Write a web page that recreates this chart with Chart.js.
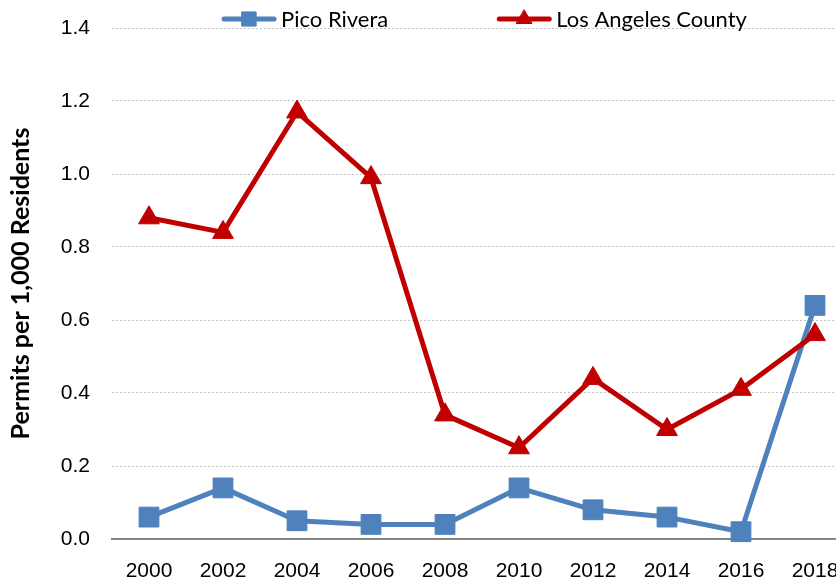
<!DOCTYPE html>
<html>
<head>
<meta charset="utf-8">
<script src="https://cdn.jsdelivr.net/npm/chart.js@4"></script>
<style>
  html, body { margin: 0; padding: 0; background: #fff; overflow: hidden; }
  #wrap { position: relative; width: 852px; height: 586px; }
</style>
</head>
<body>
<div id="wrap"><canvas id="permitsChart"></canvas></div>
<script>
// Datos
const years = ['2000', '2002', '2004', '2006', '2008', '2010', '2012', '2014', '2016', '2018'];
const picoRivera = [0.06, 0.14, 0.05, 0.04, 0.04, 0.14, 0.08, 0.06, 0.02, 0.64];
const laCounty = [0.88, 0.84, 1.17, 0.99, 0.34, 0.25, 0.44, 0.30, 0.41, 0.56];
const yTicks = [0, 0.2, 0.4, 0.6, 0.8, 1.0, 1.2, 1.4];

const tickFont = { family: '"Liberation Sans", Arial, sans-serif', size: 21 };

// Leyenda con linea + marcador, como en Excel
const legendLines = {
  id: 'legendLines',
  afterDraw(chart) {
    const ctx = chart.ctx;
    const sets = chart.data.datasets;
    const lineW = 56, textGap = 4, itemGap = 108, y = 19;
    ctx.save();
    ctx.font = '22px Lato, sans-serif';
    const widths = sets.map(ds => lineW + textGap + ctx.measureText(ds.label).width);
    const total = widths.reduce((a, b) => a + b, 0) + itemGap * (sets.length - 1);
    let x = (chart.chartArea.left + chart.chartArea.right) / 2 - total / 2 + 2;
    sets.forEach((ds, i) => {
      ctx.strokeStyle = ds.borderColor;
      ctx.fillStyle = ds.borderColor;
      ctx.lineWidth = 5;
      ctx.lineCap = 'round';
      ctx.beginPath();
      ctx.moveTo(x + 3, y);
      ctx.lineTo(x + lineW - 3, y);
      ctx.stroke();
      ctx.lineWidth = 1;
      Chart.helpers.drawPoint(ctx, {
        pointStyle: ds.pointStyle,
        radius: ds.pointStyle === 'rect' ? 10 : 9,
        borderWidth: 1,
        rotation: 0
      }, x + lineW / 2, y);
      ctx.fillStyle = '#000';
      ctx.textBaseline = 'middle';
      ctx.textAlign = 'left';
      ctx.fillText(ds.label, x + lineW + textGap, y + 1);
      x += widths[i] + itemGap;
    });
    ctx.restore();
  }
};

const ctx = document.getElementById('permitsChart').getContext('2d');
new Chart(ctx, {
  type: 'line',
  data: {
    labels: years,
    datasets: [{
      label: 'Pico Rivera',
      data: picoRivera,
      borderColor: '#4F81BD',
      backgroundColor: '#4F81BD',
      borderWidth: 5,
      pointStyle: 'rect',
      pointRadius: 14,
      pointBorderWidth: 1,
      clip: false,
      order: 1
    }, {
      label: 'Los Angeles County',
      data: laCounty,
      borderColor: '#C00000',
      backgroundColor: '#C00000',
      borderWidth: 5,
      pointStyle: 'triangle',
      pointRadius: 12,
      pointBorderWidth: 1,
      clip: false,
      order: 0
    }]
  },
  options: {
    responsive: true,
    maintainAspectRatio: false,
    animation: false,
    events: [],
    layout: { autoPadding: false, padding: { top: 28, bottom: 0, left: 0, right: 0 } },
    elements: {
      line: { tension: 0, borderJoinStyle: 'round', borderCapStyle: 'round' }
    },
    scales: {
      x: {
        offset: true,
        afterFit: scale => { scale.height = 47; scale.paddingLeft = 0; scale.paddingRight = 0; },
        grid: { display: false, drawTicks: false },
        border: { display: true, color: '#868686', width: 2 },
        ticks: { font: tickFont, color: '#000', padding: 20, maxRotation: 0 }
      },
      y: {
        min: 0,
        max: 1.4,
        afterBuildTicks: scale => { scale.ticks = yTicks.map(v => ({ value: v })); },
        afterFit: scale => { scale.width = 112; scale.paddingTop = 0; scale.paddingBottom = 0; },
        grid: { color: '#c4c4c4', lineWidth: 1, drawTicks: false },
        border: { display: false, dash: [2, 2] },
        ticks: {
          font: tickFont,
          color: '#000',
          padding: 22,
          callback: v => Number(v).toFixed(1)
        },
        title: {
          display: true,
          text: 'Permits per 1,000 Residents',
          color: '#000',
          font: { family: 'Lato, sans-serif', size: 25, weight: 'bold' },
          padding: { top: 6, bottom: 0 }
        }
      }
    },
    plugins: {
      legend: { display: false },
      tooltip: { enabled: false }
    }
  },
  plugins: [legendLines]
});
</script>
</body>
</html>
